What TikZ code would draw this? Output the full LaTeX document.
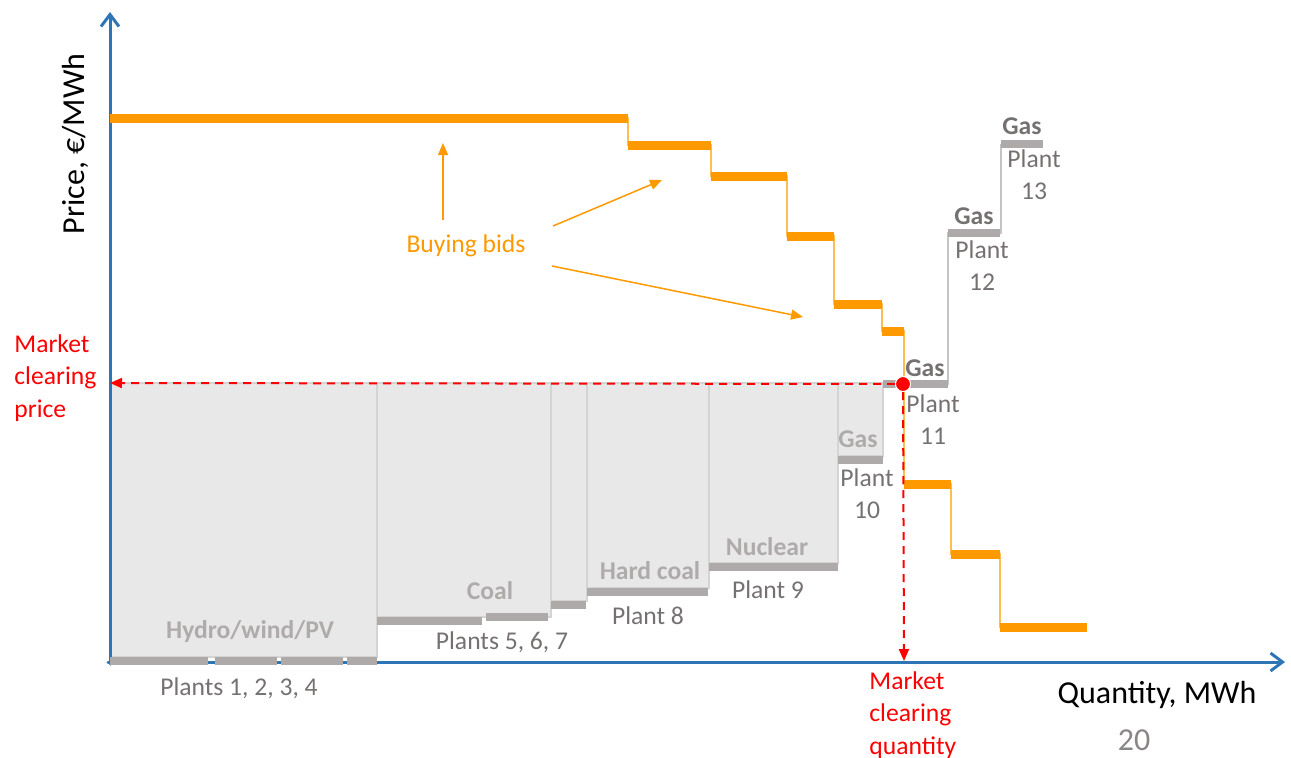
\documentclass[tikz,border=0pt]{standalone}
\usepackage{fontspec}
\setmainfont{Carlito}
\usepackage{tkz-euclide}
\usetikzlibrary{arrows.meta}
\definecolor{axisblue}{HTML}{2E75B6}
\definecolor{bidorange}{HTML}{FF9900}
\definecolor{bidthin}{HTML}{FFBE55}
\definecolor{bargray}{HTML}{AEAAAA}
\definecolor{fillgray}{HTML}{E8E8E8}
\definecolor{edgegray}{HTML}{D4D4D4}
\definecolor{stepgray}{HTML}{C4C4C4}
\definecolor{txtgray}{HTML}{767171}
\definecolor{fuelgray}{HTML}{AFABAB}

\begin{document}
\begin{tikzpicture}[x=0.5pt,y=-0.5pt,
    lbl/.style={font=\fontsize{12.8}{16}\selectfont,text=txtgray,align=center,inner sep=0pt},
    fuel/.style={font=\fontsize{12.8}{16}\selectfont\bfseries,text=fuelgray,inner sep=0pt},
    fuelon/.style={fuel,text=txtgray},
    redlbl/.style={font=\fontsize{12.8}{16.3}\selectfont,text=red,align=left,anchor=west,inner sep=0pt},
    axlbl/.style={font=\fontsize{16}{19}\selectfont,inner sep=0pt},
    axis/.style={axisblue,line width=1.5pt,-{Straight Barb[length=6pt,width=9pt]}},
    bar/.style={bargray,line width=4pt},
    bid/.style={bidorange,line width=4.5pt},
    bidarrow/.style={bidorange,line width=0.75pt,-{Triangle[length=6pt,width=5pt]}},
    clear/.style={red,line width=1pt,dash pattern=on 4pt off 3pt,-{Triangle[length=6pt,width=5pt]}},
    clearing dot/.style={circle,fill=red,draw=white,line width=0.5pt,minimum size=7.5pt,inner sep=0pt}]
                \useasboundingbox (0,0) rectangle (1291,757);
                \tkzDefPoints{108/662/W,1285/662/X,110/664/O,110/12/Y}
                \tkzDefPoints{110/383/P,904/661/Q}
                % supply below the clearing price
                \foreach \xa/\xb/\yb in {110/377/657,377/551/617,551/587/601,587/709/588,709/838/563,838/883/456}
                    \filldraw[fill=fillgray,draw=edgegray,line width=0.7pt] (\xa,383) rectangle (\xb,\yb);
                \draw[stepgray,line width=1pt] (883,384) -| (948,233) -| (1001,144);
                \tkzDrawSegments[axis](W,X O,Y)
                \foreach \xa/\xb/\y in {110/208/661,215/277/661,281/343/661,347/377/661,377/482/621,486/548/617,551/586/605,587/708/592,709/838/567,838/883/460,883/948/384,948/1000/233,1001/1043/144}
                    \draw[bar] (\xa,\y) -- (\xb,\y);
                % buying bids
                \draw[bidthin,line width=1pt] (110,118) -| (628,145) -| (711,176) -| (787,236) -| (834,304) -| (882,331) -| (904,484) -| (951,554) -| (1000,627) -- (1087,627);
                \foreach \xa/\xb/\y in {110/628/118,628/711/145,711/787/176,787/834/236,834/882/304,882/904/331,904/951/484,951/1000/554,1000/1087/627}
                    \draw[bid] (\xa,\y) -- (\xb,\y);
                \node[font=\fontsize{12.8}{16}\selectfont,text=bidorange,inner sep=0pt] (bids) at (466,246) {Buying bids};
                \coordinate (t1) at (443,143);
                \coordinate (t2) at (662,180);
                \coordinate (t3) at (803,317);
                \draw[bidarrow] (bids.center) ++(-23,-26) -- (t1);
                \draw[bidarrow] (bids.center) ++(87,-20) -- (t2);
                \draw[bidarrow] (bids.center) ++(86,20) -- (t3);
                % market clearing
                \node[clearing dot] (M) at (903,384) {};
                \draw[clear] (M) -- (P);
                \draw[clear] (M) -- (Q);
                \node[clearing dot] at (M) {};
                \node[redlbl] (mcp) at (14,378) {Market\\clearing\\price};
                \node[redlbl] (mcq) at (869,715) {Market\\clearing\\quantity};
                % plant labels
                \node[fuel] (hydro) at (250,632) {Hydro/wind/PV};
                \node[lbl] (p1) at (239,688) {Plants 1, 2, 3, 4};
                \node[fuel] (coal) at (490,591) {Coal};
                \node[lbl] (p5) at (502,642) {Plants 5, 6, 7};
                \node[fuel] (hard) at (650,571) {Hard coal};
                \node[lbl] (p8) at (648,616) {Plant 8};
                \node[fuel] (nuc) at (767,547) {Nuclear};
                \node[lbl] (p9) at (768,590) {Plant 9};
                \node[fuel] (gas10) at (858,439) {Gas};
                \node[lbl] (p10) at (867,494) {Plant\\10};
                \node[fuelon] (gas11) at (925,368) {Gas};
                \node[lbl] (p11) at (933,420) {Plant\\11};
                \node[fuelon] (gas12) at (974,216) {Gas};
                \node[lbl] (p12) at (982,266) {Plant\\12};
                \node[fuelon] (gas13) at (1022,126) {Gas};
                \node[lbl] (p13) at (1034,175) {Plant\\13};
                % axis labels
                \node[axlbl,rotate=90] (ylab) at (75,144) {Price, €/MWh};
                \node[axlbl] (xlab) at (1157,695) {Quantity, MWh};
                \node[axlbl,text=txtgray!85] (page) at (1134,740) {20};
\end{tikzpicture}
\end{document}
